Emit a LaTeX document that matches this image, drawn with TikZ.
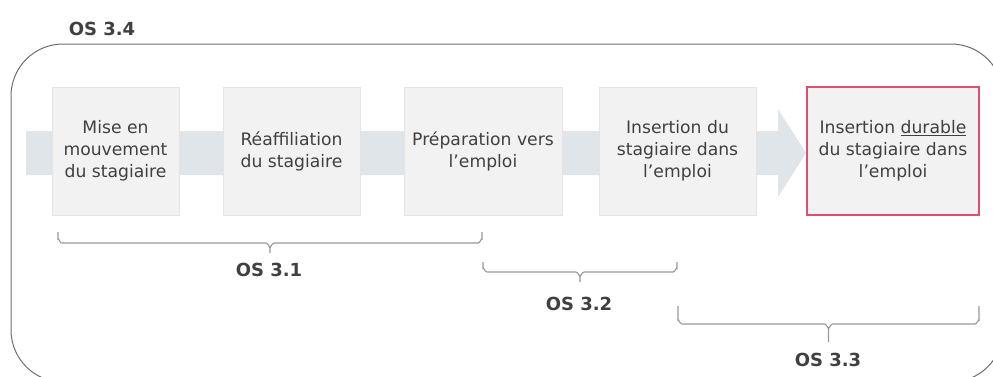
\documentclass[tikz,border=0pt]{standalone}
\usepackage{fontspec}
\setmainfont{DejaVu Sans}
\definecolor{txt}{HTML}{404040}
\definecolor{boxfill}{HTML}{F2F2F2}
\definecolor{boxline}{HTML}{E4E4E4}
\definecolor{band}{HTML}{E0E5E9}
\definecolor{accent}{HTML}{E0506A}
\definecolor{frame}{HTML}{6E6E6E}
\definecolor{bracec}{HTML}{999999}
\newcommand\osbrace[5]{%
  \pgfmathsetmacro\bxm{(#1+#2)/2}%
  \pgfmathsetmacro\bxa{#1+4}\pgfmathsetmacro\bxb{#2-4}%
  \pgfmathsetmacro\bxma{\bxm-4}\pgfmathsetmacro\bxmb{\bxm+4}%
  \pgfmathsetmacro\bya{#4-4}\pgfmathsetmacro\byb{#4+4}%
  \draw[bracepath] (#1,#3) -- (#1,\bya) to[out=90,in=180] (\bxa,#4) -- (\bxma,#4) to[out=0,in=-90] (\bxm,\byb) -- (\bxm,#5);
  \draw[bracepath] (#2,#3) -- (#2,\bya) to[out=90,in=0] (\bxb,#4) -- (\bxmb,#4) to[out=180,in=-90] (\bxm,\byb);}
\begin{document}
\begin{tikzpicture}[x=1pt,y=-1pt,
  stepbox/.style={draw=boxline,line width=0.8pt,fill=boxfill,minimum height=128pt,
    align=center,text=txt,font=\fontsize{17.2}{22}\selectfont,inner sep=2pt},
  oslabel/.style={text=txt,font=\fontsize{18}{20}\selectfont\bfseries},
  bracepath/.style={draw=bracec,line width=1.1pt}]
\clip (0,0) rectangle (993,376);
\fill[white] (0,0) rectangle (993,376);
% outer frame
\draw[frame,line width=1pt,rounded corners=52pt] (11,44) rectangle (1003,382);
\node[oslabel] (os34) at (102,29) {OS 3.4};
% band arrow
\fill[band] (26,131) -- (778,131) -- (778,109) -- (806,153) -- (778,197) -- (778,175) -- (26,175) -- cycle;
% boxes
\node[stepbox,minimum width=127pt] (b1) at (115.5,151) {Mise en\\mouvement\\du stagiaire};
\node[stepbox,minimum width=137pt] (b2) at (291.5,151) {Réaffiliation\\du stagiaire};
\node[stepbox,minimum width=158pt] (b3) at (483,151) {Préparation vers\\l’emploi};
\node[stepbox,minimum width=157pt] (b4) at (677.5,151) {Insertion du\\stagiaire dans\\l’emploi};
\node[stepbox,draw=accent,line width=1.1pt,minimum width=172pt] (b5) at (893,151) {Insertion \underline{durable}\\du stagiaire dans\\l’emploi};
% braces
\osbrace{58}{482}{232}{243}{253}
\osbrace{483}{677}{262}{272}{282}
\osbrace{678}{979}{306}{324}{342}
\node[oslabel] (os31) at (269,270) {OS 3.1};
\node[oslabel] (os32) at (579,304) {OS 3.2};
\node[oslabel] (os33) at (828,360) {OS 3.3};
\end{tikzpicture}
\end{document}
